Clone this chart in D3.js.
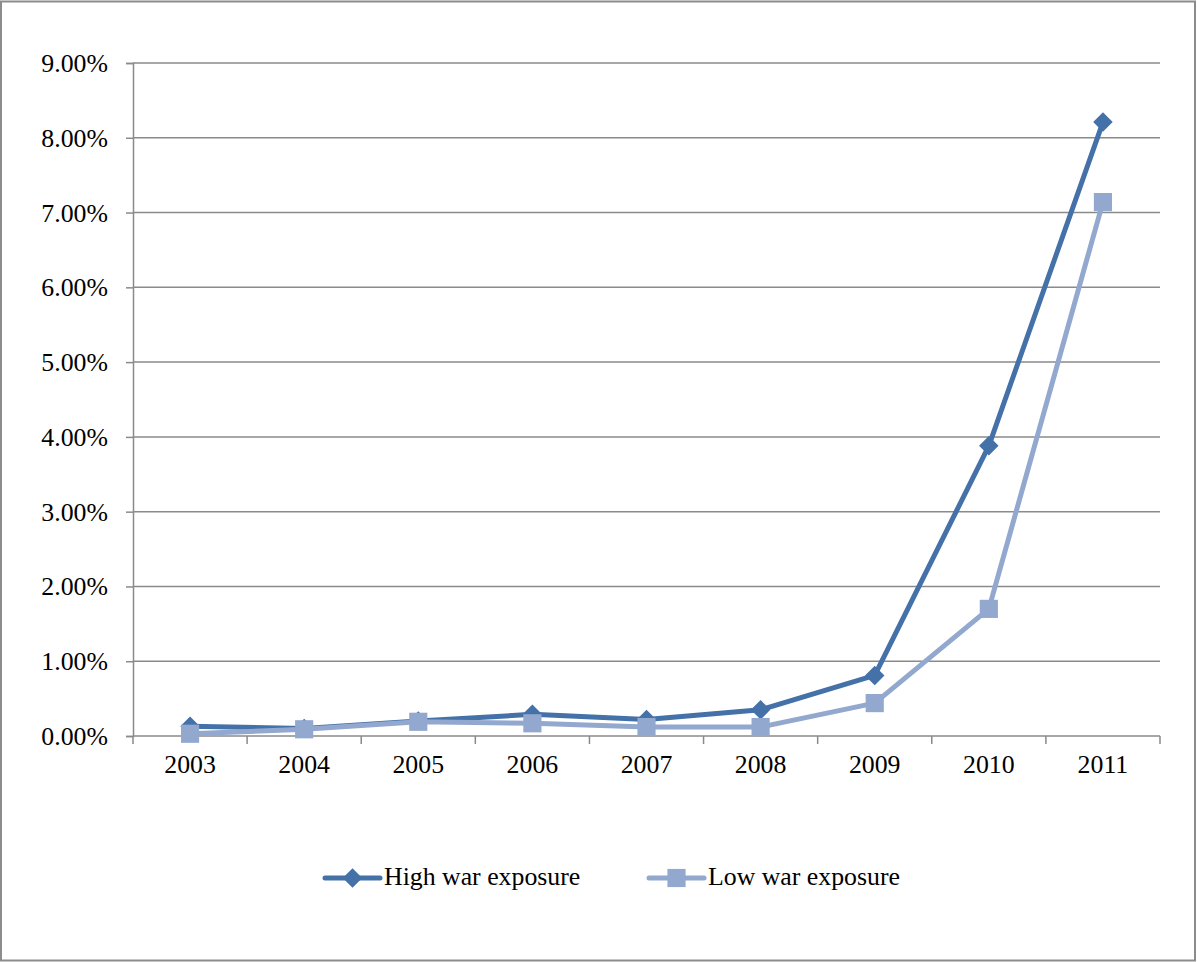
<!DOCTYPE html>
<html>
<head>
<meta charset="utf-8">
<script src="https://cdn.jsdelivr.net/npm/d3@7"></script>
<style>
  html, body { margin: 0; padding: 0; background: #fff; }
  svg { display: block; }
  text { font-family: "Liberation Serif", "Times New Roman", serif; fill: #000; }
</style>
</head>
<body>
<svg id="chart" width="1197" height="962"></svg>
<script>
// Share of firms per year, by war exposure group
const years = ["2003", "2004", "2005", "2006", "2007", "2008", "2009", "2010", "2011"];
const highExposure = [0.0013, 0.0010, 0.0020, 0.0029, 0.0022, 0.0035, 0.0081, 0.0388, 0.0821];
const lowExposure  = [0.0003, 0.0009, 0.0019, 0.0017, 0.0012, 0.0012, 0.0044, 0.0170, 0.0714];
const yTicks = [0, 0.01, 0.02, 0.03, 0.04, 0.05, 0.06, 0.07, 0.08, 0.09];
const seriesNames = ["High war exposure", "Low war exposure"];

const highColor = "#4471A8";
const lowColor = "#92A8CF";
const gridColor = "#8a8a8a";
const fontSize = 25.8;

const svg = d3.select("#chart");

// outer frame
svg.append("rect")
  .attr("x", 1).attr("y", 1.5).attr("width", 1194).attr("height", 959)
  .attr("fill", "none").attr("stroke", "#8c8c8c").attr("stroke-width", 2);

const plotLeft = 133, plotRight = 1160, plotTop = 63, plotBottom = 736;

const x = d3.scaleBand().domain(years).range([plotLeft, plotRight]);
const y = d3.scaleLinear().domain([0, 0.09]).range([plotBottom, plotTop]);
const fmt = d3.format(".2%");

// horizontal gridlines
svg.append("g").selectAll("line").data(yTicks.filter(d => d > 0)).join("line")
  .attr("x1", plotLeft).attr("x2", plotRight)
  .attr("y1", d => y(d)).attr("y2", d => y(d))
  .attr("stroke", gridColor).attr("stroke-width", 1.5);

// y axis
const yAxis = svg.append("g").attr("transform", `translate(${plotLeft},0)`)
  .call(d3.axisLeft(y).tickValues(yTicks).tickFormat(fmt).tickSize(7).tickPadding(18));
yAxis.attr("font-family", null).attr("font-size", null);
yAxis.select(".domain").attr("stroke", gridColor).attr("stroke-width", 1.5);
yAxis.selectAll(".tick line").attr("stroke", gridColor).attr("stroke-width", 1.5);
yAxis.selectAll("text").attr("font-size", fontSize).attr("dy", "0.33em");

// x axis: ticks at band boundaries
const xAxisG = svg.append("g").attr("transform", `translate(0,${plotBottom})`);
xAxisG.append("line").attr("x1", plotLeft).attr("x2", plotRight)
  .attr("stroke", gridColor).attr("stroke-width", 1.5);
const bounds = years.map(d => x(d)).concat([x(years[years.length - 1]) + x.bandwidth()]);
xAxisG.selectAll("line.tk").data(bounds).join("line").attr("class", "tk")
  .attr("x1", d => d).attr("x2", d => d).attr("y1", 0).attr("y2", 8)
  .attr("stroke", gridColor).attr("stroke-width", 1.5);
xAxisG.selectAll("text").data(years).join("text")
  .attr("x", d => x(d) + x.bandwidth() / 2).attr("y", 37)
  .attr("text-anchor", "middle").attr("font-size", fontSize).text(d => d);

const cx = d => x(d) + x.bandwidth() / 2;
const line = d3.line().x(d => cx(d[0])).y(d => y(d[1]));

const diamond = d3.symbol().type(d3.symbolSquare).size(190);
const square = d3.symbol().type(d3.symbolSquare).size(330);

function drawSeries(values, color, sym, rotate) {
  const pts = years.map((yr, i) => [yr, values[i]]);
  svg.append("path").datum(pts).attr("d", line)
    .attr("fill", "none").attr("stroke", color).attr("stroke-width", 5)
    .attr("stroke-linejoin", "round").attr("stroke-linecap", "round");
  svg.append("g").selectAll("path").data(pts).join("path")
    .attr("d", sym)
    .attr("transform", d => `translate(${cx(d[0])},${y(d[1])})${rotate ? " rotate(45)" : ""}`)
    .attr("fill", color);
}

drawSeries(highExposure, highColor, diamond, true);
drawSeries(lowExposure, lowColor, square, false);

// legend
const legend = [
  { name: seriesNames[0], color: highColor, x0: 325, sym: diamond, rot: true },
  { name: seriesNames[1], color: lowColor, x0: 649, sym: square, rot: false }
];
const ly = 878;
legend.forEach(l => {
  const g = svg.append("g");
  g.append("line").attr("x1", l.x0).attr("x2", l.x0 + 55).attr("y1", ly).attr("y2", ly)
    .attr("stroke", l.color).attr("stroke-width", 5).attr("stroke-linecap", "round");
  g.append("path").attr("d", l.sym)
    .attr("transform", `translate(${l.x0 + 27.5},${ly})${l.rot ? " rotate(45)" : ""}`)
    .attr("fill", l.color);
  g.append("text").attr("x", l.x0 + 59).attr("y", 885).attr("font-size", fontSize).text(l.name);
});
</script>
</body>
</html>
